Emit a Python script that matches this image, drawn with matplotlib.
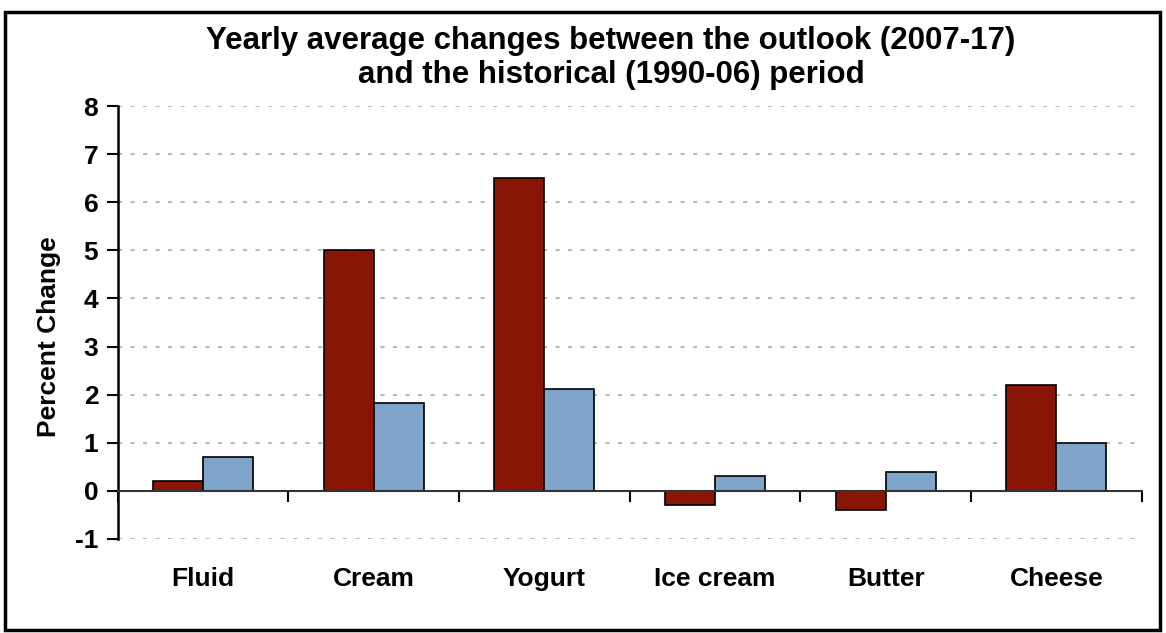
import matplotlib
matplotlib.use("Agg")
import matplotlib.pyplot as plt
from matplotlib.patches import Rectangle
import numpy as np

categories = ["Fluid", "Cream", "Yogurt", "Ice cream", "Butter", "Cheese"]
outlook = [0.2, 5.0, 6.5, -0.3, -0.4, 2.2]        # 2007-17
historical = [0.7, 1.83, 2.12, 0.3, 0.4, 1.0]     # 1990-06
yticks = [-1, 0, 1, 2, 3, 4, 5, 6, 7, 8]
title = "Yearly average changes between the outlook (2007-17)\nand the historical (1990-06) period"
ylabel = "Percent Change"

plt.rcParams['font.family'] = ['Liberation Sans', 'DejaVu Sans']

W, H = 1166, 633
fig = plt.figure(figsize=(W / 100, H / 100), dpi=100)
ax = fig.add_axes([117.7 / W, 1 - 539 / H, 1024 / W, 433 / H])

x = np.arange(len(categories))
bw = 0.293
red = "#891604"
blue = "#7EA4CA"
ax.bar(x - bw / 2, outlook, bw, color=red, edgecolor="black", linewidth=1.2, zorder=3)
ax.bar(x + bw / 2, historical, bw, color=blue, edgecolor="black", linewidth=1.2, zorder=3)

ax.set_xlim(-0.5, len(categories) - 0.5)
ax.set_ylim(-1, 8)
ax.set_yticks(yticks)
ax.set_yticklabels([str(v) for v in yticks], fontsize=19, fontweight="bold")
ax.tick_params(axis="y", direction="out", length=8, width=1.5, pad=6)

for s in ["top", "right"]:
    ax.spines[s].set_visible(False)
ax.spines["left"].set_linewidth(1.8)
ax.spines["bottom"].set_position(("data", 0))
ax.spines["bottom"].set_color("#333333")
ax.spines["bottom"].set_linewidth(1.5)
ax.spines["bottom"].set_zorder(4)

ax.set_xticks(x)
ax.set_xticklabels(categories, fontsize=19, fontweight="bold")
ax.tick_params(axis="x", which="major", length=0, pad=55)
ax.set_xticks(np.arange(-0.5, len(categories)), minor=True)
ax.tick_params(axis="x", which="minor", direction="out", length=8, width=1.5, color="black")

ax.yaxis.grid(True, color="#BBBBBB", linestyle=(0, (2, 4)), linewidth=1.5, zorder=0)
ax.set_axisbelow(True)

ax.set_ylabel(ylabel, fontsize=19, fontweight="bold")
ax.yaxis.set_label_coords(-0.055, 0.467)

fig.text(611 / W, 1 - 58 / H, title, ha="center", va="center", fontsize=22.5,
         fontweight="bold", linespacing=1.15)

fig.patches.append(Rectangle((5 / W, 3 / H), 1155 / W, 618 / H, transform=fig.transFigure,
                             fill=False, edgecolor="black", linewidth=2.5))

fig.savefig("out.png", dpi=100)
